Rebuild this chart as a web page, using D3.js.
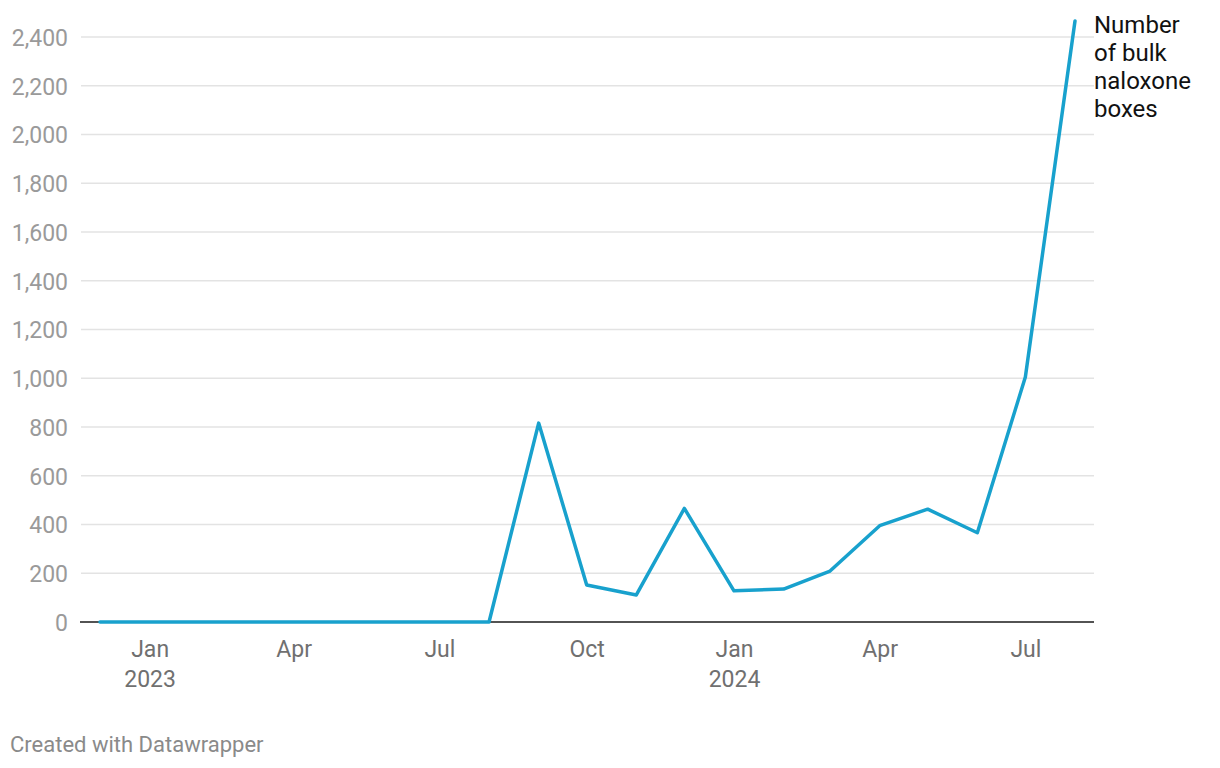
<!DOCTYPE html>
<html>
<head>
<meta charset="utf-8">
<script src="https://cdn.jsdelivr.net/npm/d3@7"></script>
<style>
  body { margin: 0; background: #fff; font-family: Roboto, "Noto Sans", sans-serif; }
  svg { display: block; }
</style>
</head>
<body>
<svg id="chart" width="1220" height="768"></svg>
<script>
const months = ["2022-12","2023-01","2023-02","2023-03","2023-04","2023-05","2023-06","2023-07","2023-08","2023-09","2023-10","2023-11","2023-12","2024-01","2024-02","2024-03","2024-04","2024-05","2024-06","2024-07","2024-08"];
const boxes = [0,0,0,0,0,0,0,0,0,816,152,111,466,128,135,209,395,463,366,1005,2466];
const yTicks = [0,200,400,600,800,1000,1200,1400,1600,1800,2000,2200,2400];
const xTickDates = ["2023-01","2023-04","2023-07","2023-10","2024-01","2024-04","2024-07"];
const seriesLabel = ["Number", "of bulk", "naloxone", "boxes"];

const parse = d3.timeParse("%Y-%m");
const data = months.map((m, i) => ({date: parse(m), value: boxes[i]}));

const svg = d3.select("#chart");
const x = d3.scaleTime().domain([parse(months[0]), parse(months[months.length-1])]).range([100, 1075]);
const y = d3.scaleLinear().domain([0, 2400]).range([622, 37]);
const gridX0 = 81, gridX1 = 1094;

// grid lines
svg.append("g").selectAll("line").data(yTicks.filter(d => d > 0)).join("line")
  .attr("x1", gridX0).attr("x2", gridX1)
  .attr("y1", d => y(d)).attr("y2", d => y(d))
  .attr("stroke", "#e3e3e3").attr("stroke-width", 1.3);

// y axis labels
const yAxis = d3.axisLeft(y).tickValues(yTicks).tickSize(0).tickPadding(0).tickFormat(d3.format(","));
const yg = svg.append("g").attr("transform", `translate(68,0)`).call(yAxis);
yg.select(".domain").remove();
yg.selectAll("text").attr("fill", "#9a9a9a").attr("dy", "0.36em").style("font-size", "23px").style("font-family", "Roboto");

// baseline
svg.append("line").attr("x1", gridX0 - 1).attr("x2", gridX1)
  .attr("y1", y(0)).attr("y2", y(0)).attr("stroke", "#1a1a1a").attr("stroke-width", 1.6);

// x axis labels
const xAxis = d3.axisBottom(x).tickValues(xTickDates.map(parse)).tickSize(0).tickPadding(0).tickFormat(() => "");
const xg = svg.append("g").attr("transform", `translate(0,${y(0)})`).call(xAxis);
xg.select(".domain").remove();
xg.selectAll(".tick text").remove();
xg.selectAll(".tick").each(function(d) {
  const g = d3.select(this);
  const t = g.append("text").attr("text-anchor", "middle").attr("fill", "#707070")
    .style("font-size", "23px").style("font-family", "Roboto");
  t.append("tspan").attr("x", 0).attr("y", 35).text(d3.timeFormat("%b")(d));
  if (d.getMonth() === 0) t.append("tspan").attr("x", 0).attr("y", 65).text(d3.timeFormat("%Y")(d));
});

// line
const line = d3.line().x(d => x(d.date)).y(d => y(d.value));
svg.append("path").datum(data).attr("d", line)
  .attr("fill", "none").attr("stroke", "#18a1cd").attr("stroke-width", 3.5)
  .attr("stroke-linejoin", "round").attr("stroke-linecap", "round");

// series label
const lbl = svg.append("text").attr("fill", "#111").style("font-size", "24px").style("font-family", "Roboto");
seriesLabel.forEach((s, i) => lbl.append("tspan").attr("x", 1094).attr("y", 33 + i * 28).text(s));

// footer
svg.append("text").attr("x", 10).attr("y", 752).attr("fill", "#8a8a8a")
  .style("font-size", "22px").style("font-family", "Roboto").text("Created with Datawrapper");
</script>
</body>
</html>
